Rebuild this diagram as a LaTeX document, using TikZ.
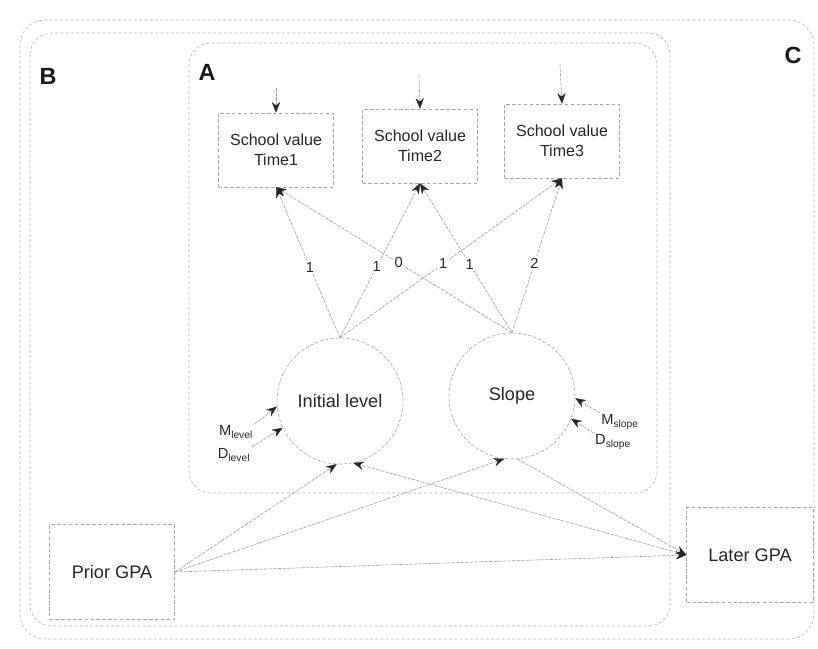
\documentclass[tikz,border=0pt]{standalone}
\usepackage{fontspec}
\setmainfont{Liberation Sans}
\usetikzlibrary{arrows.meta}
\begin{document}
\begin{tikzpicture}[x=0.03cm,y=-0.03cm,
  panel/.style={draw=gray!60, line width=0.5pt, dash pattern=on 2.5pt off 2pt, rounded corners=0.65cm},
  box/.style={draw=gray!70, line width=0.5pt, dash pattern=on 3pt off 2pt, rectangle, align=center, text=black!85, inner sep=2pt},
  svbox/.style={box, minimum width=3.45cm, minimum height=2.22cm, font=\fontsize{13.7}{17}\selectfont},
  gpabox/.style={box, minimum height=2.85cm, font=\fontsize{15.5}{18}\selectfont},
  latent/.style={circle, draw=gray!70, line width=0.5pt, dash pattern=on 3pt off 1.5pt, minimum size=3.78cm, inner sep=0pt, text=black!85, font=\fontsize{15.5}{18}\selectfont},
  conn/.style={draw=gray!75, line width=0.5pt, dash pattern=on 3pt off 1pt, -{Stealth[length=9pt,width=7pt,color=black!85,line width=0.3pt]}},
  lbl/.style={font=\fontsize{12.5}{14}\selectfont, fill=white, inner sep=1.5pt, text=black!85},
  small/.style={font=\fontsize{12.5}{14}\selectfont, text=black!85, inner sep=1pt},
  plabel/.style={font=\fontsize{20}{22}\selectfont\bfseries, text=black!90}]

\useasboundingbox (0,0) rectangle (818,648);

% panels
\draw[panel, rounded corners=0.75cm] (20,20) rectangle (814,639);
\draw[panel] (30,33) rectangle (670,626);
\draw[panel] (189,43) rectangle (657,493);
\node[plabel] (lB) at (48,76) {B};
\node[plabel] (lA) at (207,72) {A};
\node[plabel] (lC) at (793,55) {C};

% observed indicators
\node[svbox] (T1) at (276,150) {School value\\Time1};
\node[svbox] (T2) at (420,146) {School value\\Time2};
\node[svbox] (T3) at (562,141) {School value\\Time3};

% latent factors
\node[latent] (IL) at (340,401) {Initial level};
\node[latent] (SL) at (512,396) {Slope};

% GPA boxes
\node[gpabox, minimum width=3.75cm] (PG) at (112,572) {Prior GPA};
\node[gpabox, minimum width=3.8cm] (LG) at (750,555) {Later GPA};

% error arrows into indicators
\coordinate (e1) at (276,88);
\coordinate (e2) at (419,75);
\coordinate (e3) at (560,64);
\draw[conn] (e1) -- (T1.north);
\draw[conn] (e2) -- (T2.north);
\draw[conn] (e3) -- (T3.north);

% loadings
\draw[conn] (IL.north) -- (T1.south);
\draw[conn] (IL.north) -- (T2.south);
\draw[conn] (IL.north) -- (T3.south);
\draw[conn] (SL.north) -- (T1.south);
\draw[conn] (SL.north) -- (T2.south);
\draw[conn] (SL.north) -- (T3.south);
\path (IL.north) -- node[lbl, pos=0.47] {1} (T1.south);
\path (IL.north) -- node[lbl, pos=0.46] {1} (T2.south);
\path (IL.north) -- node[lbl, pos=0.465] {1} (T3.south);
\path (SL.north) -- node[lbl, pos=0.48] {0} (T1.south);
\path (SL.north) -- node[lbl, pos=0.46] {1} (T2.south);
\path (SL.north) -- node[lbl, pos=0.45] {2} (T3.south);

% means and disturbances
\node[small] (Ml) at (236,432) {M\textsubscript{level}};
\node[small] (Dl) at (234,455) {D\textsubscript{level}};
\node[small] (Ms) at (620,422) {M\textsubscript{slope}};
\node[small] (Ds) at (613,442) {D\textsubscript{slope}};
\draw[conn] (Ml.north east) -- (IL.185);
\draw[conn] (Dl.north east) -- (IL.205);
\draw[conn] (Ms.north west) -- (SL.-2);
\draw[conn] (Ds.north west) -- (SL.-21);

% GPA paths
\draw[conn] (PG.east) -- (IL.-93);
\draw[conn] (PG.east) -- (SL.-97);
\draw[conn] (PG.east) -- (LG.west);
\draw[conn] (LG.west) -- (IL.-78);
\draw[conn] (SL.-85) -- (LG.west);
\end{tikzpicture}
\end{document}
